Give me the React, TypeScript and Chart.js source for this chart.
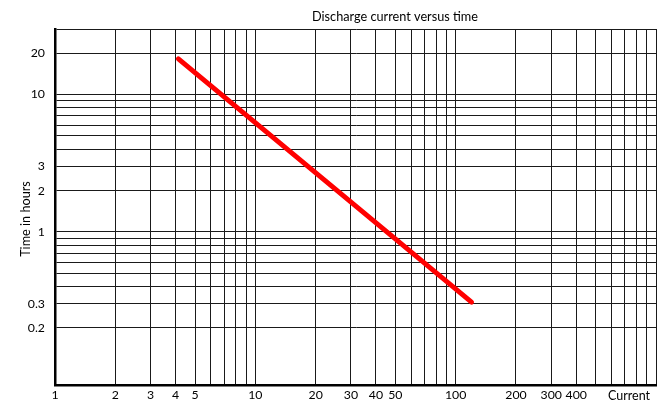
import React, { useEffect, useRef } from "react";
import { Chart, registerables } from "chart.js";

Chart.register(...registerables);

// ---- data ----
const chartTitle = "Discharge current versus time";
const yAxisTitle = "Time in hours";
const xAxisTitle = "Current";

const xGridValues = [1, 2, 3, 4, 5, 6, 7, 8, 9, 10, 20, 30, 40, 50, 60, 70, 80, 90, 100, 200, 300, 400, 500, 600, 700, 800, 900, 1000];
const xLabelValues = [1, 2, 3, 4, 5, 10, 20, 30, 40, 50, 100, 200, 300, 400];
const yGridValues = [0.2, 0.3, 0.4, 0.5, 0.6, 0.7, 0.8, 0.9, 1, 2, 3, 4, 5, 6, 7, 8, 9, 10, 20, 30];
const yLabelValues = [0.2, 0.3, 1, 2, 3, 10, 20];

const xMin = 1;
const xMax = 1000;
const yMin = 0.076;
const yMax = 30;

const currentValues = [4.13, 120];
const hoursValues = [18.2, 0.308];

const FONT = "Lato, 'Open Sans', sans-serif";

const textPlugin = {
  id: "extraTexts",
  afterDraw(chart: any) {
    const { ctx, chartArea } = chart;
    ctx.save();
    ctx.fillStyle = "#000";
    ctx.font = `12.7px ${FONT}`;
    ctx.textBaseline = "alphabetic";
    ctx.textAlign = "center";
    ctx.fillText(chartTitle, 395, 21);
    ctx.font = `12.5px ${FONT}`;
    ctx.textAlign = "right";
    ctx.fillText(xAxisTitle, chartArea.right - 6, 400);
    // y axis title, rotated
    ctx.translate(26, 219);
    ctx.rotate(-Math.PI / 2);
    ctx.textAlign = "center";
    ctx.textBaseline = "middle";
    ctx.font = `12.7px ${FONT}`;
    ctx.fillText(yAxisTitle, 0, 0);
    ctx.restore();
  },
};

export default function App() {
  const canvasRef = useRef<HTMLCanvasElement | null>(null);

  useEffect(() => {
    const canvas = canvasRef.current;
    if (!canvas) return;
    const chart = new Chart(canvas, {
      type: "line",
      data: {
        datasets: [
          {
            data: currentValues.map((x, i) => ({ x, y: hoursValues[i] })),
            borderColor: "#ff0000",
            borderWidth: 5,
            borderCapStyle: "round",
            pointRadius: 0,
            fill: false,
          },
        ],
      },
      options: {
        responsive: false,
        animation: false,
        layout: { padding: { top: 29, right: 6, left: 0, bottom: 0 } },
        plugins: {
          legend: { display: false },
          title: { display: false },
          tooltip: { enabled: false },
        },
        scales: {
          x: {
            type: "logarithmic",
            min: xMin,
            max: xMax,
            afterBuildTicks: (s: any) => {
              s.ticks = xGridValues.map((v) => ({ value: v }));
            },
            afterFit: (s: any) => {
              s.height = 17;
            },
            grid: { color: "#1a1a1a", lineWidth: 1, drawTicks: false },
            border: { color: "#000", width: 2.5 },
            ticks: {
              autoSkip: false,
              maxRotation: 0,
              minRotation: 0,
              padding: 2.5,
              color: "#000",
              font: { family: FONT, size: 12.3 },
              callback: (v: any) => (xLabelValues.includes(Number(v)) ? String(v) : ""),
            },
          },
          y: {
            type: "logarithmic",
            min: yMin,
            max: yMax,
            afterBuildTicks: (s: any) => {
              s.ticks = yGridValues.map((v) => ({ value: v }));
            },
            afterFit: (s: any) => {
              s.width = 55;
            },
            grid: { color: "#1a1a1a", lineWidth: 1, drawTicks: false },
            border: { color: "#000", width: 2.5 },
            ticks: {
              autoSkip: false,
              padding: 10,
              color: "#000",
              font: { family: FONT, size: 12.3 },
              callback: (v: any) => (yLabelValues.includes(Number(v)) ? String(v) : ""),
            },
          },
        },
      },
      plugins: [textPlugin],
    } as any);
    return () => chart.destroy();
  }, []);

  return (
    <div style={{ position: "absolute", left: 0, top: 0, width: 662, height: 403, background: "#fff" }}>
      <canvas ref={canvasRef} width={662} height={403} style={{ display: "block" }} />
    </div>
  );
}
